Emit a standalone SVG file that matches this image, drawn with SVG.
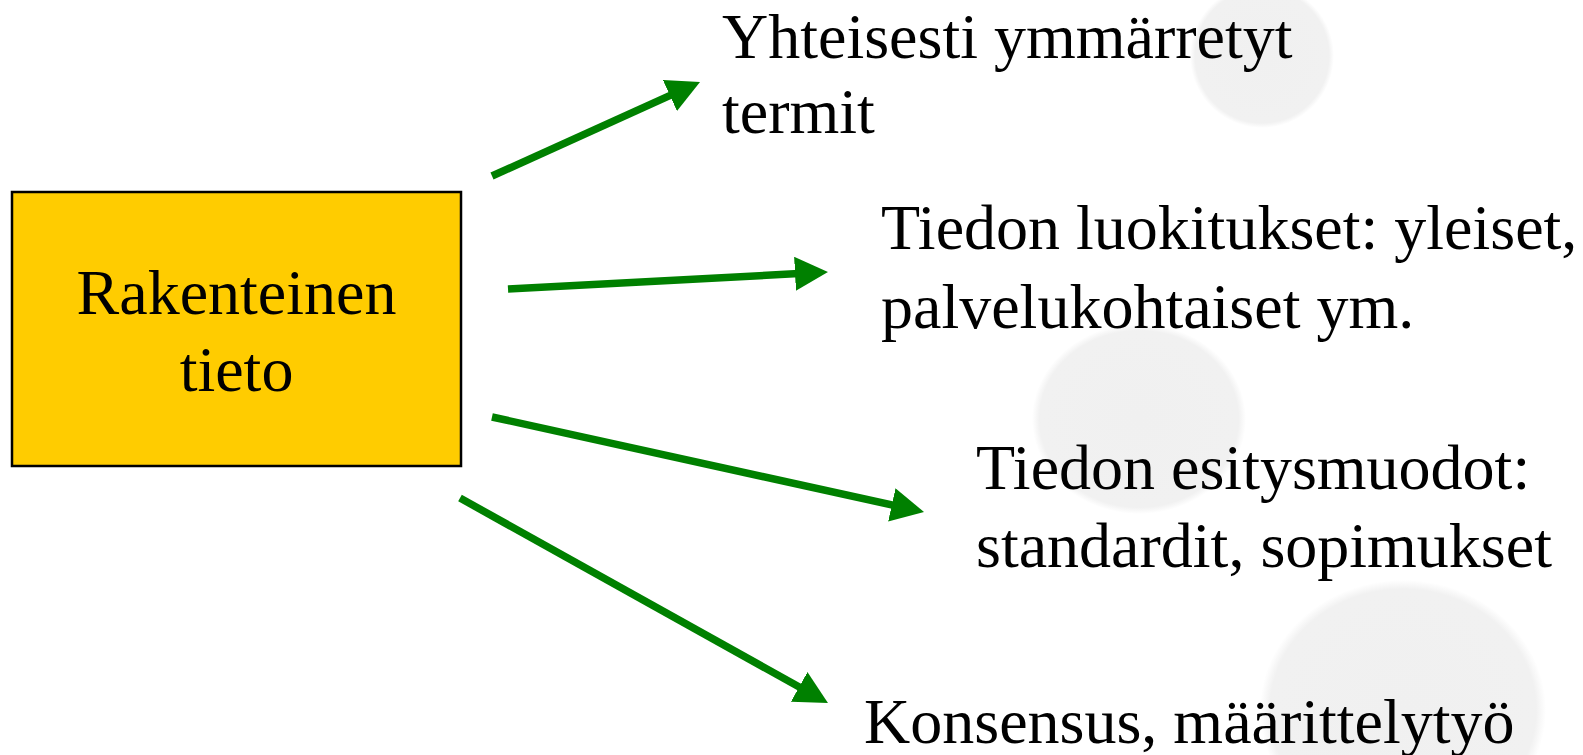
<svg xmlns="http://www.w3.org/2000/svg" width="1583" height="755" viewBox="0 0 1583 755">
  <style>
    .t { font-family: "Liberation Serif", "Times New Roman", serif; font-size: 64px; fill: #000; }
    .c { stroke: #008000; stroke-width: 7.5; fill: none; marker-end: url(#ah); }
  </style>
  <defs>
    <marker id="ah" markerUnits="userSpaceOnUse" markerWidth="34" markerHeight="34" refX="13" refY="17" orient="auto">
      <path d="M0,0 L33,17 L0,34 z" fill="#008000"/>
    </marker>
    <radialGradient id="soft">
      <stop offset="0" stop-color="#f0f0f0"/>
      <stop offset="0.93" stop-color="#f1f1f1"/>
      <stop offset="1" stop-color="#f1f1f1" stop-opacity="0"/>
    </radialGradient>
  </defs>
  <rect width="1583" height="755" fill="#fff"/>
  <g id="background">
    <ellipse cx="1262" cy="56" rx="72" ry="72" fill="url(#soft)"/>
    <ellipse cx="1139" cy="419" rx="107" ry="95" fill="url(#soft)"/>
    <ellipse cx="1403" cy="710" rx="143" ry="130" fill="url(#soft)"/>
  </g>
  <g id="connectors">
    <line class="c" x1="492" y1="176" x2="681.8" y2="90.2"/>
    <line class="c" x1="508" y1="289" x2="808" y2="273.1"/>
    <line class="c" x1="492" y1="417" x2="904.5" y2="507.7"/>
    <line class="c" x1="460" y1="498" x2="810.5" y2="693.3"/>
  </g>
  <g id="node-rakenteinen">
    <rect x="12" y="192" width="449" height="274" fill="#ffcc00" stroke="#000" stroke-width="2.5"/>
    <text class="t" x="236.5" y="314" text-anchor="middle">Rakenteinen</text>
    <text class="t" x="236.5" y="391" text-anchor="middle">tieto</text>
  </g>
  <g id="node-termit">
    <text class="t" x="722" y="58">Yhteisesti ymmärretyt</text>
    <text class="t" x="722" y="133">termit</text>
  </g>
  <g id="node-luokitukset">
    <text class="t" x="881" y="249">Tiedon luokitukset: yleiset,</text>
    <text class="t" x="881" y="328">palvelukohtaiset ym.</text>
  </g>
  <g id="node-esitysmuodot">
    <text class="t" x="976" y="489">Tiedon esitysmuodot:</text>
    <text class="t" x="976" y="567">standardit, sopimukset</text>
  </g>
  <g id="node-konsensus">
    <text class="t" x="864" y="743">Konsensus, määrittelytyö</text>
  </g>
</svg>
